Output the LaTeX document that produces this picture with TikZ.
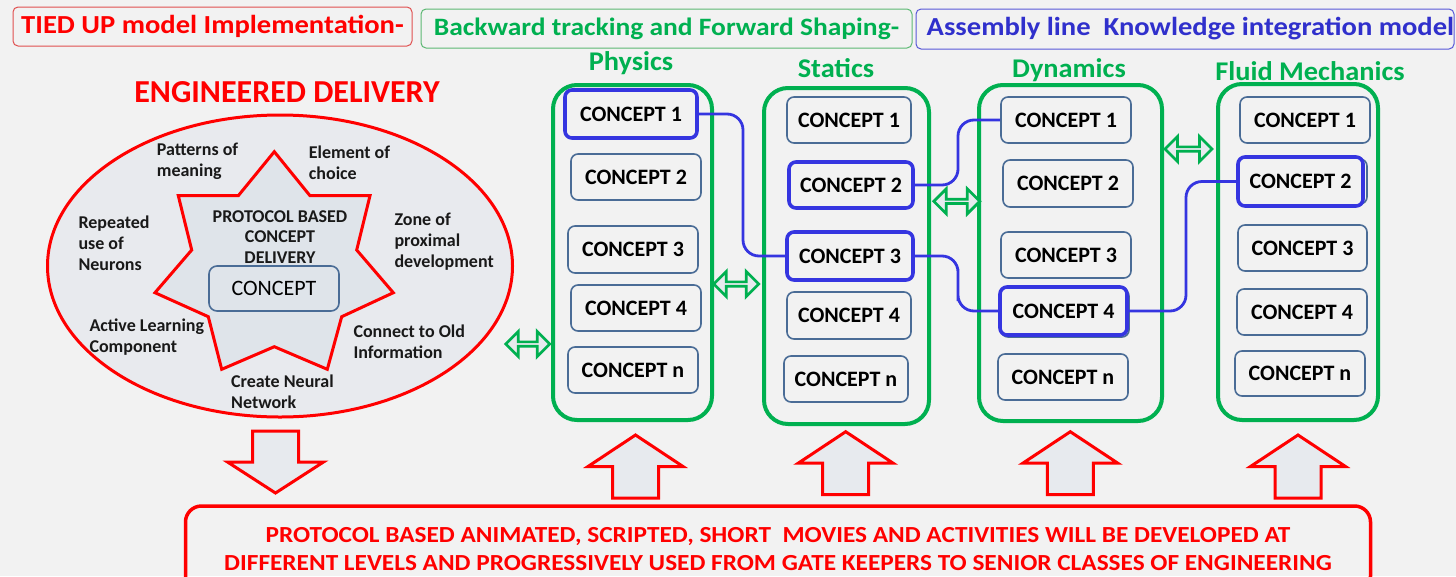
\documentclass[tikz,border=0pt]{standalone}
\usepackage{fontspec}
\setmainfont{Carlito}
\newfontfamily\widefont[FakeStretch=1.1]{Carlito}
\newfontfamily\titlefont[FakeStretch=1.05]{Carlito}
\usetikzlibrary{shapes.geometric,shapes.arrows,calc}

\definecolor{bg}{HTML}{F2F2F2}
\definecolor{tred}{HTML}{FF0000}
\definecolor{tgreen}{HTML}{00B050}
\definecolor{tblue}{HTML}{3030CC}
\definecolor{linkblue}{HTML}{3535E0}
\definecolor{boxedge}{HTML}{4A6C96}
\definecolor{ellfill}{HTML}{E8EAEE}
\definecolor{starfill}{HTML}{DFE4EA}
\definecolor{arrowfill}{HTML}{E7EAEE}
\definecolor{hred}{HTML}{E05050}
\definecolor{hgreen}{HTML}{5CB873}
\definecolor{hblue}{HTML}{5858D8}

\newcommand{\fsz}[2]{\fontsize{#1}{#2}\selectfont}

\begin{document}
\begin{tikzpicture}[x=1pt,y=-1pt,
  header/.style={draw, line width=1pt, rounded corners=5pt, inner sep=0pt},
  htext/.style={font=\widefont\fsz{26}{30}\bfseries, inner sep=0pt},
  coltitle/.style={text=tgreen, font=\titlefont\fsz{27}{31}\bfseries, inner sep=0pt},
  column/.style={draw=tgreen, line width=4pt, rounded corners=24pt, inner sep=0pt},
  concept/.style={draw=boxedge, line width=1.6pt, rounded corners=7pt, fill=bg,
    inner sep=0pt, font=\fsz{22}{26}\bfseries, text=black},
  hl/.style={draw=linkblue, line width=3.6pt},
  ghost/.style={draw=boxedge, line width=1.6pt, rounded corners=7pt},
  link/.style={draw=linkblue, line width=2.8pt, rounded corners=16pt},
  idea/.style={align=left, anchor=west, inner sep=0pt, font=\fsz{18}{21}\bfseries, text=black!90},
  dbl/.style={double arrow, draw=tgreen, fill=arrowfill, line width=2.7pt, inner sep=0pt,
    minimum width=25pt, double arrow head extend=6.5pt, double arrow tip angle=90},
  blockarrow/.style={draw=tred, fill=arrowfill, line width=3pt, line join=miter},
  uparrow/.pic={\draw[blockarrow] (0,0) -- (47.5,31.5) -- (23,31.5) -- (23,63)
      -- (-23,63) -- (-23,31.5) -- (-47.5,31.5) -- cycle;},
  downarrow/.pic={\draw[blockarrow] (0,0) -- (48,-31) -- (23,-31) -- (23,-62)
      -- (-23,-62) -- (-23,-31) -- (-48,-31) -- cycle;}
]
\fill[bg] (0,0) rectangle (1456,576);
\useasboundingbox (0,0) rectangle (1456,576);

% ---------- header strip ----------
\node[header, draw=hred, minimum width=399pt, minimum height=39pt] (h1) at (212.5,26.5) {};
\node[htext, text=tred] (h1t) at (h1.center) {TIED UP model Implementation-};
\node[header, draw=hgreen, minimum width=491pt, minimum height=39pt] (h2) at (666.5,28.5) {};
\node[htext, text=tgreen, font=\widefont\fsz{25}{29}\bfseries] (h2t) at (h2.center) {Backward tracking and Forward Shaping-};
\node[header, draw=hblue, minimum width=538pt, minimum height=40pt] (h3) at (1185,29) {};
\node[htext, text=tblue, anchor=west] (h3t) at ($(h3.west)+(11,0)$) {Assembly line\ \ Knowledge integration model};

% ---------- engineered delivery ----------
\node[text=tred, font=\fsz{32}{36}\bfseries, inner sep=0pt] (edtitle) at (287,92) {ENGINEERED DELIVERY};
\node[ellipse, draw=tred, fill=ellfill, line width=3pt, minimum width=465pt, minimum height=302pt] (ell) at (280,266) {};
\draw[draw=tred, fill=starfill, line width=3pt, line join=miter]
  (274.3,151.7) -- (310,195.7) -- (370,195.7) -- (356.7,250) -- (393.3,292.7)
  -- (341.7,316.7) -- (327.3,369.3) -- (274.3,346.7) -- (221.7,369.3)
  -- (208.3,316.7) -- (155,292.7) -- (191.7,250) -- (178.3,195.7)
  -- (238.3,195.7) -- cycle;
\node[align=center, inner sep=0pt, font=\fsz{18}{20.7}\bfseries, text=black!90] (proto) at (280,237)
  {PROTOCOL BASED\\CONCEPT\\DELIVERY};
\node[draw=boxedge, line width=1.6pt, rounded corners=8pt, fill=starfill, inner sep=0pt,
  minimum width=130pt, minimum height=45pt, font=\fsz{22}{26}] (core) at (274,288.5) {CONCEPT};
\node[idea] (pat) at (156.7,161.2) {Patterns of\\meaning};
\node[idea] (elem) at (308.7,162.8) {Element of\\choice};
\node[idea] (rep) at (78.3,243) {Repeated\\use of\\Neurons};
\node[idea] (zone) at (394.3,241.7) {Zone of\\proximal\\development};
\node[idea] (act) at (89.3,336.8) {Active Learning\\Component};
\node[idea] (conn) at (353.3,341.5) {Connect to Old\\Information};
\node[idea] (cre) at (231,391.5) {Create Neural\\Network};

% ---------- subject columns ----------
\node[coltitle] (tphys) at (631,63) {Physics};
\node[coltitle] (tstat) at (836,68) {Statics};
\node[coltitle] (tdyn) at (1069,70) {Dynamics};
\node[coltitle] (tflu) at (1310,71) {Fluid Mechanics};

\node[column, minimum width=159pt, minimum height=335pt] (phys) at (632.5,252.5) {};
\node[column, minimum width=165pt, minimum height=336pt] (stat) at (846.5,256) {};
\node[column, minimum width=183pt, minimum height=336pt] (dyn) at (1070.5,253) {};
\node[column, minimum width=160pt, minimum height=336pt] (flu) at (1298,252) {};

% Physics
\draw[ghost] (568,92) rectangle (695,137);
\node[concept, hl, minimum width=132pt, minimum height=48pt] (p1) at (631,114) {CONCEPT 1};
\node[concept, minimum width=130pt, minimum height=46pt] (p2) at (636,177) {CONCEPT 2};
\node[concept, minimum width=130pt, minimum height=47pt] (p3) at (633,249.5) {CONCEPT 3};
\node[concept, minimum width=130pt, minimum height=46pt] (p4) at (636,308) {CONCEPT 4};
\node[concept, minimum width=130pt, minimum height=46pt] (pn) at (633,370) {CONCEPT n};
% Statics
\node[concept, minimum width=124pt, minimum height=46pt] (s1) at (849,120) {CONCEPT 1};
\node[concept, hl, minimum width=124pt, minimum height=46pt] (s2) at (851,185) {CONCEPT 2};
\node[concept, hl, minimum width=126pt, minimum height=48pt] (s3) at (850,256) {CONCEPT 3};
\node[concept, minimum width=124pt, minimum height=47pt] (s4) at (849,315.5) {CONCEPT 4};
\node[concept, minimum width=124pt, minimum height=46pt] (sn) at (846,379) {CONCEPT n};
% Dynamics
\node[concept, minimum width=130pt, minimum height=46pt] (d1) at (1066,120) {CONCEPT 1};
\node[concept, minimum width=130pt, minimum height=47pt] (d2) at (1068,183.5) {CONCEPT 2};
\node[concept, minimum width=130pt, minimum height=46pt] (d3) at (1066,255) {CONCEPT 3};
\draw[ghost] (1001,289) rectangle (1129,337);
\node[concept, hl, minimum width=127pt, minimum height=48pt] (d4) at (1063.5,311) {CONCEPT 4};
\node[concept, minimum width=130pt, minimum height=46pt] (dn) at (1063,377) {CONCEPT n};
% Fluid Mechanics
\node[concept, minimum width=130pt, minimum height=46pt] (f1) at (1305,120) {CONCEPT 1};
\draw[ghost] (1240,159) rectangle (1367,204);
\node[concept, hl, minimum width=125pt, minimum height=49pt] (f2) at (1300.5,181.5) {CONCEPT 2};
\node[concept, minimum width=129pt, minimum height=46pt] (f3) at (1302.5,248) {CONCEPT 3};
\node[concept, minimum width=130pt, minimum height=46pt] (f4) at (1302,312) {CONCEPT 4};
\node[concept, minimum width=130pt, minimum height=45pt] (fn) at (1300,373.5) {CONCEPT n};

% concept links
\draw[link] (p1.east) -| (743,184) |- (s3.west);
\draw[link] (s2.east) -| (958,155) |- (d1.west);
\draw[link] (s3.east) -| (958,285) |- (d4.west);
\draw[link] (d4.east) -| (1186,250) |- (f2.west);

% two-way arrows between blocks
\node[dbl, minimum height=44pt] (da0) at (527.7,344) {};
\node[dbl, minimum height=45pt] (da1) at (736.3,284) {};
\node[dbl, minimum height=46pt] (da2) at (956.8,201.3) {};
\node[dbl, minimum height=47pt] (da3) at (1188.5,149) {};

% ---------- bottom block ----------
\pic (dn0) at (275.5,493) {downarrow};
\pic (up1) at (635.5,435) {uparrow};
\pic (up2) at (845.7,431.7) {uparrow};
\pic (up3) at (1070.3,431.7) {uparrow};
\pic (up4) at (1298,435) {uparrow};

\node[draw=tred, line width=3.5pt, rounded corners=16pt, minimum width=1185pt, minimum height=86pt,
  align=center, text=tred, font=\widefont\fsz{23}{28.3}\bfseries, inner sep=0pt] (movies) at (778,549)
  {PROTOCOL BASED ANIMATED, SCRIPTED, SHORT\ \ MOVIES AND ACTIVITIES WILL BE DEVELOPED AT\\
   DIFFERENT LEVELS AND PROGRESSIVELY USED FROM GATE KEEPERS TO SENIOR CLASSES OF ENGINEERING};
\end{tikzpicture}
\end{document}
